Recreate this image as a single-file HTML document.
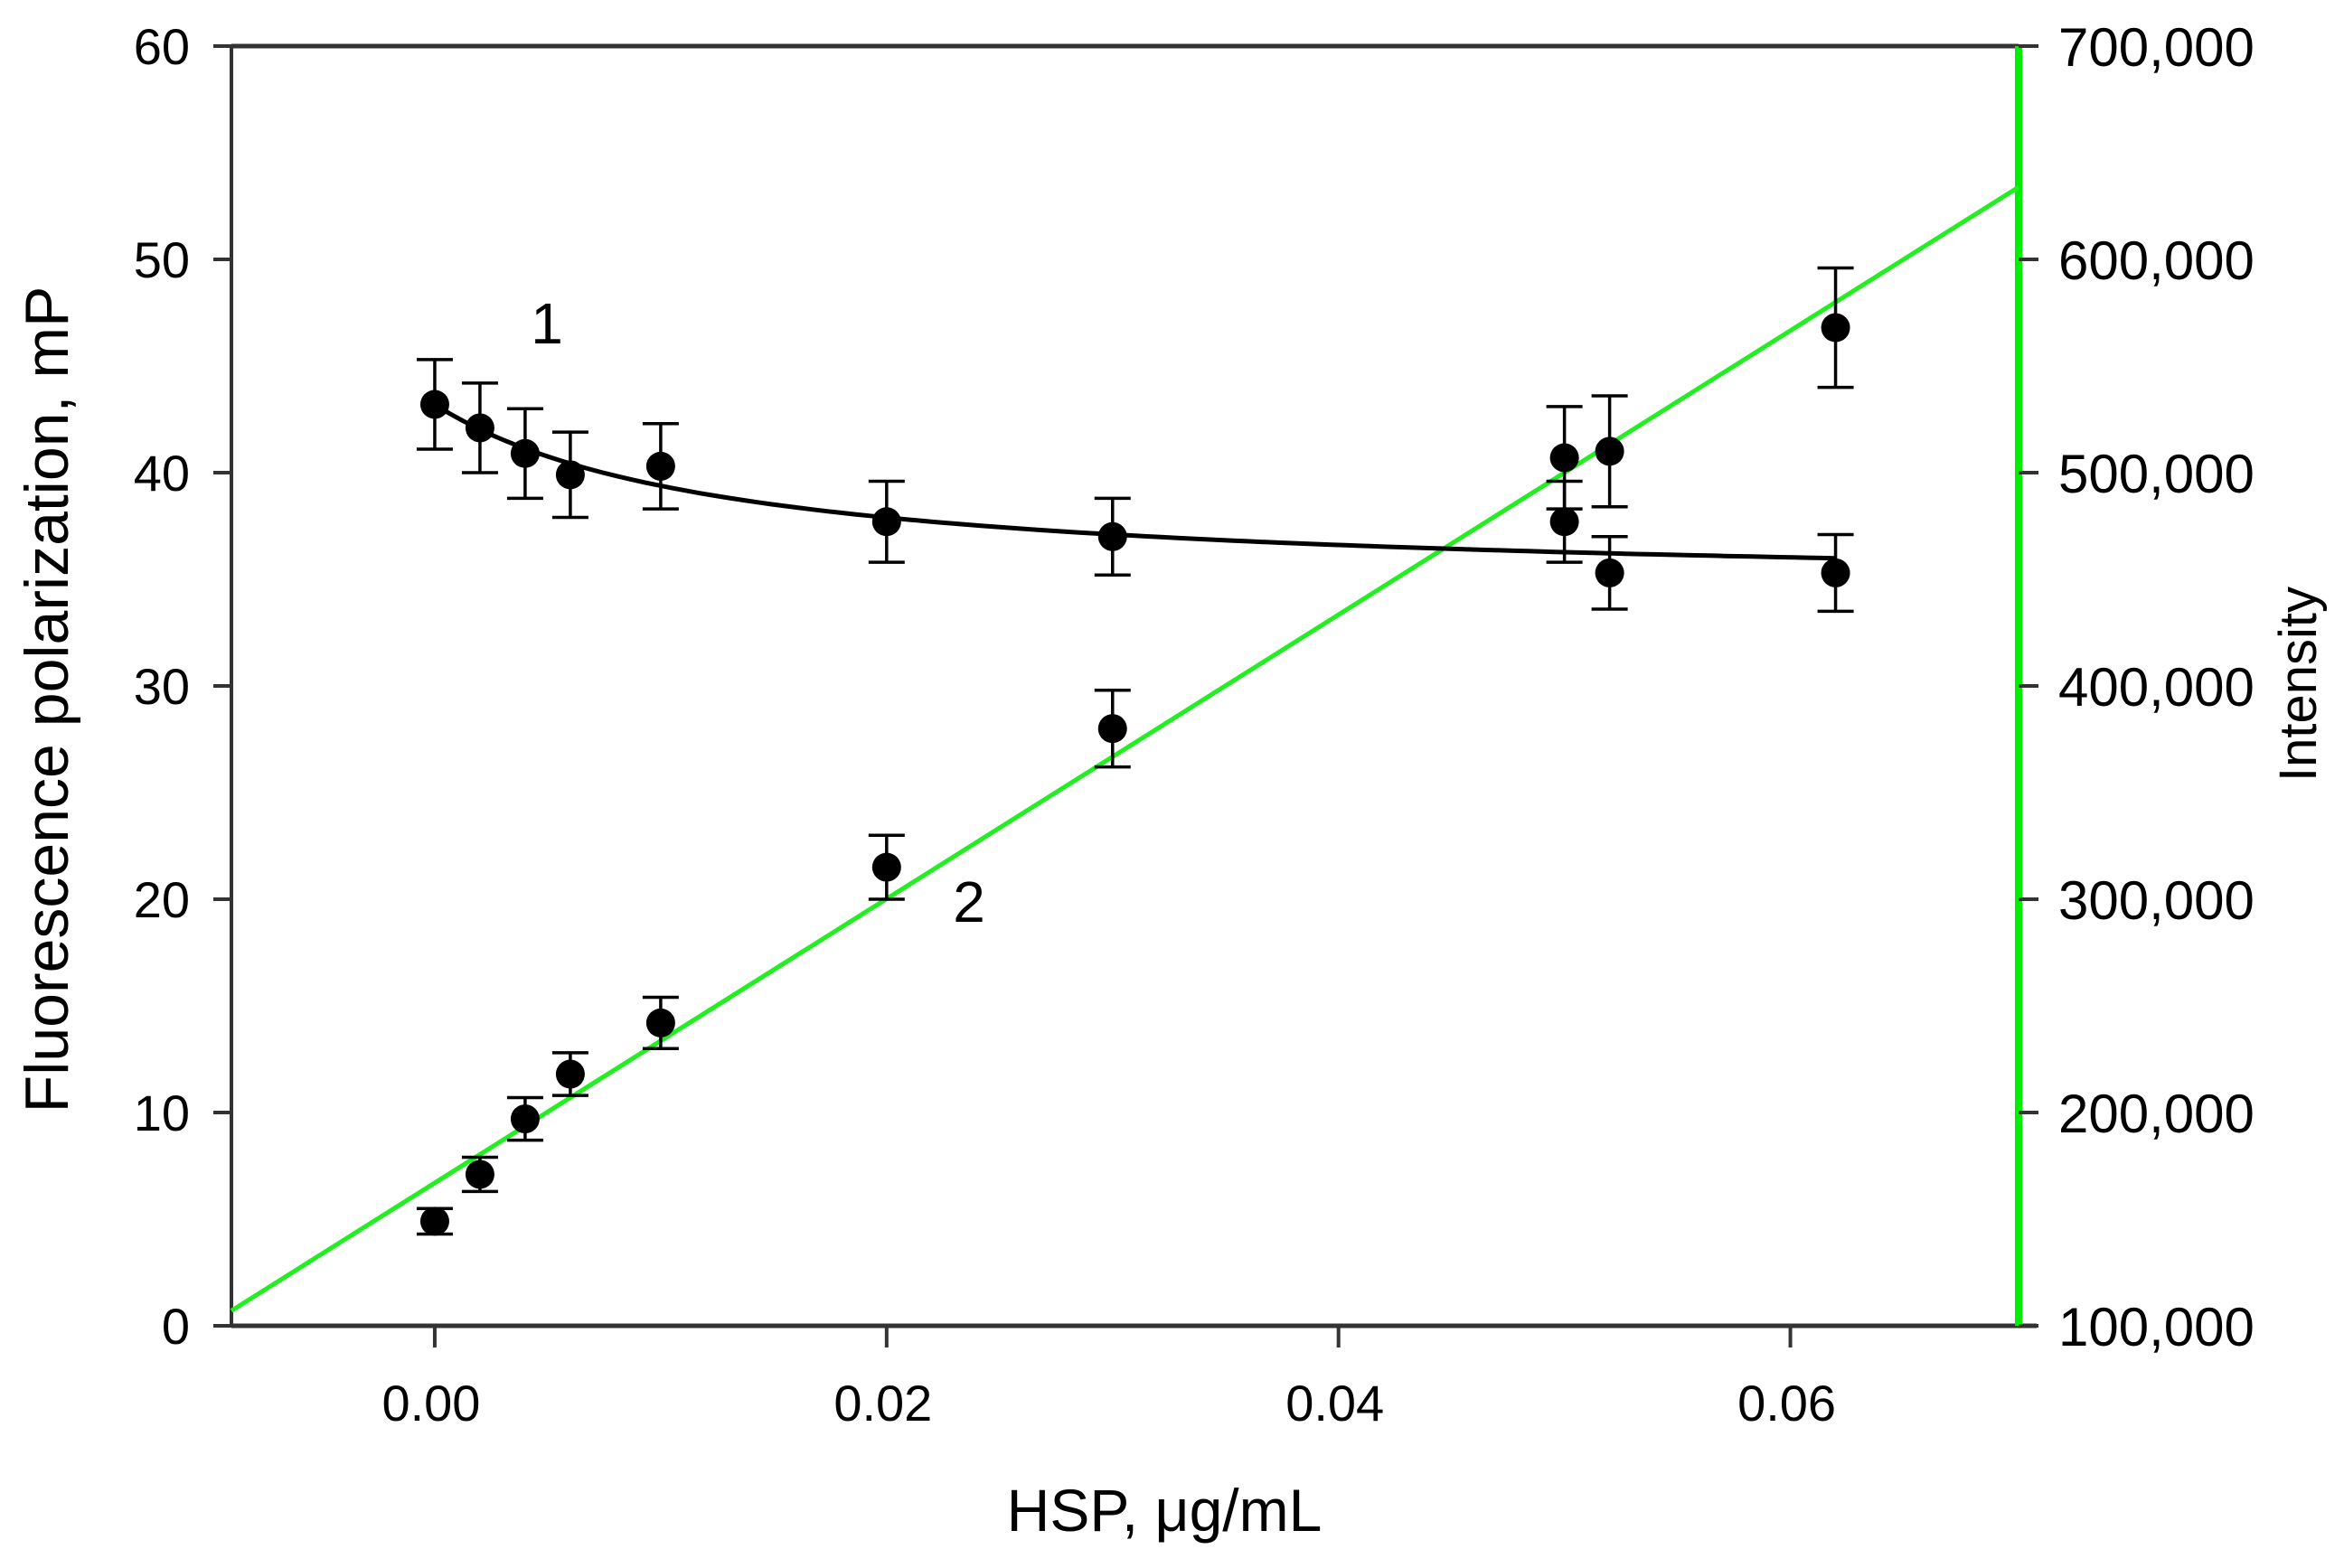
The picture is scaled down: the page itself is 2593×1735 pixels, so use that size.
<!DOCTYPE html>
<html><head><meta charset="utf-8"><style>
html,body{margin:0;padding:0;background:#fff}
svg{display:block}
text{font-family:"Liberation Sans",Arial,sans-serif;fill:#000}
</style></head><body>
<svg id="chart" width="2593" height="1735" viewBox="0 0 2593 1735" xmlns="http://www.w3.org/2000/svg">
<g id="axes"></g>
<g id="marks"></g>
</svg>
<script>
const xTicks = [0, 0.02, 0.04, 0.06];
const xTickLabels = ["0.00", "0.02", "0.04", "0.06"];
const yTicks = [0, 10, 20, 30, 40, 50, 60];
const y2Ticks = [100000, 200000, 300000, 400000, 500000, 600000, 700000];
const y2TickLabels = ["100,000","200,000","300,000","400,000","500,000","600,000","700,000"];
const s1X = [0, 0.002, 0.004, 0.006, 0.01, 0.02, 0.03, 0.05, 0.052, 0.062];
const s1Y = [43.2, 42.1, 40.9, 39.9, 40.3, 37.7, 37.0, 37.7, 35.3, 35.3];
const s1Err = [2.1, 2.1, 2.1, 2.0, 2.0, 1.9, 1.8, 1.9, 1.7, 1.8];
const s2X = [0, 0.002, 0.004, 0.006, 0.01, 0.02, 0.03, 0.05, 0.052, 0.062];
const s2Y = [149000, 171000, 197000, 218000, 242000, 315000, 380000, 507000, 510000, 568000];
const s2Err = [6000, 8000, 10000, 10000, 12000, 15000, 18000, 24000, 26000, 28000];
const fit1 = [34.5, 8.7, 0.0128];     // a + b/(1+x/c)
const fit2 = [167000, 6660000];       // intercept, slope

const L=256, R=2233, T=51, B=1467;
const xMin=-0.009, xMax=0.0701;
const X = v => L + (v - xMin) / (xMax - xMin) * (R - L);
const Y = v => B - v / 60 * (B - T);
const Y2 = v => B - (v - 100000) / 600000 * (B - T);
const NS = "http://www.w3.org/2000/svg";
const axes = document.getElementById('axes');
const marks = document.getElementById('marks');
function mk(tag, attrs, parent){ const e=document.createElementNS(NS,tag); for(const k in attrs) e.setAttribute(k,attrs[k]); parent.appendChild(e); return e; }

let e;
e = mk('line',{x1:L,y1:T,x2:R,y2:T,stroke:'#333','stroke-width':5},axes);
 
e = mk('line',{x1:L,y1:B,x2:R+20,y2:B,stroke:'#333','stroke-width':5},axes);
 
e = mk('line',{x1:L,y1:T,x2:L,y2:B,stroke:'#333','stroke-width':4},axes);
 
e = mk('line',{x1:R,y1:T,x2:R,y2:B,stroke:'#00ee00','stroke-width':8},axes);
 

yTicks.forEach(v=>{
  const t=mk('line',{x1:L-20,y1:Y(v),x2:L,y2:Y(v),stroke:'#333','stroke-width':4},axes);
   
  const tx=mk('text',{x:L-46,y:Y(v)+20,'font-size':56,'text-anchor':'end'},axes);
  tx.textContent=v;
   
});
y2Ticks.forEach((v,i)=>{
  const t=mk('line',{x1:R,y1:Y2(v),x2:R+22,y2:Y2(v),stroke:'#333','stroke-width':4},axes);
   
  const tx=mk('text',{x:R+44,y:Y2(v)+22,'font-size':60,'text-anchor':'start'},axes);
  tx.textContent=y2TickLabels[i];
   
});
xTicks.forEach((v,i)=>{
  const t=mk('line',{x1:X(v),y1:B,x2:X(v),y2:B+24,stroke:'#333','stroke-width':4},axes);
   
  const tx=mk('text',{x:X(v)-4,y:B+105,'font-size':56,'text-anchor':'middle'},axes);
  tx.textContent=xTickLabels[i];
   
});
e=mk('text',{x:1288,y:1694,'font-size':66,'text-anchor':'middle'},axes);
e.textContent='HSP, μg/mL';
 
e=mk('text',{x:0,y:0,'font-size':68,'text-anchor':'middle',transform:'translate(75,774) rotate(-90)'},axes);
e.textContent='Fluorescence polarization, mP';
 
e=mk('text',{x:0,y:0,'font-size':58,'text-anchor':'middle',transform:'translate(2562,757) rotate(-90)'},axes);
e.textContent='Intensity';
 
e=mk('text',{x:605,y:380,'font-size':64,'text-anchor':'middle'},axes);
e.textContent='1';
 
e=mk('text',{x:1072,y:1020,'font-size':64,'text-anchor':'middle'},axes);
e.textContent='2';
 

e=mk('line',{x1:X(xMin),y1:Y2(fit2[0]+fit2[1]*xMin),x2:X(xMax),y2:Y2(fit2[0]+fit2[1]*xMax),stroke:'#22ee22','stroke-width':5},marks);
 
let d='';
for(let i=0;i<=100;i++){ const x=0.062*i/100; const y=fit1[0]+fit1[1]/(1+x/fit1[2]); d+=(i?'L':'M')+X(x).toFixed(1)+','+Y(y).toFixed(1); }
e=mk('path',{d:d,fill:'none',stroke:'#000','stroke-width':5},marks);
 

function points(xs,ys,errs,yf,name){
  xs.forEach((x,i)=>{
    const cx=X(x), cy=yf(ys[i]), t=yf(ys[i]+errs[i]), b=yf(ys[i]-errs[i]);
    const g=mk('g',{},marks);
     
    mk('line',{x1:cx,y1:t,x2:cx,y2:b,stroke:'#000','stroke-width':3.5},g);
    mk('line',{x1:cx-20,y1:t,x2:cx+20,y2:t,stroke:'#000','stroke-width':3.5},g);
    mk('line',{x1:cx-20,y1:b,x2:cx+20,y2:b,stroke:'#000','stroke-width':3.5},g);
    mk('circle',{cx:cx,cy:cy,r:16,fill:'#000'},g);
  });
}
points(s1X,s1Y,s1Err,Y,'series-1');
points(s2X,s2Y,s2Err,Y2,'series-2');
</script>
</body></html>
